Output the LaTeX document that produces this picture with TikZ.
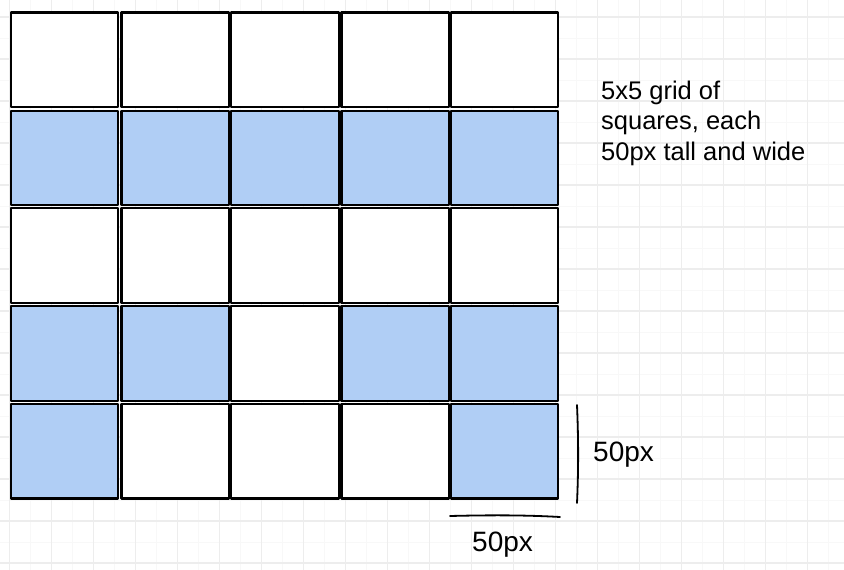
\documentclass[tikz,border=0pt]{standalone}
\usepackage{fontspec}
\setmainfont{Liberation Sans}

\definecolor{cellblue}{RGB}{176,206,245}
\definecolor{minorgrid}{RGB}{248,248,248}
\definecolor{majorgrid}{RGB}{237,237,237}

\begin{document}
\begin{tikzpicture}[x=1pt, y=-1pt,
    cell/.style={draw=black, line width=2.8pt, line join=round, fill=white},
    bluecell/.style={cell, fill=cellblue},
    dimline/.style={draw=black, line width=1.8pt, line cap=round},
    dimlabel/.style={font=\fontsize{28}{30}\selectfont, inner sep=0pt, anchor=base west},
    desclabel/.style={font=\fontsize{25.5}{30}\selectfont, inner sep=0pt, anchor=base west}]

    \useasboundingbox (0, 0) rectangle (844, 570);
    \fill[white] (0, 0) rectangle (844, 570);

    % Dessiner le quadrillage de fond
    \begin{scope}[x=1pt, y=1pt]
        \clip (0, 0) rectangle (844, -570);
        \draw[color=minorgrid, line width=1pt, shift={(9.5, -17)}, step=21] (-21, -588) grid (861, 21);
        \draw[color=majorgrid, line width=1.2pt, shift={(9.5, -17)}, step=42] (-42, -588) grid (861, 42);
    \end{scope}

    \draw[cell] (11, 12.5) rectangle (118, 107);
    \draw[cell] (121.5, 12.5) rectangle (229, 107);
    \draw[cell] (231, 12.5) rectangle (339, 107);
    \draw[cell] (341.5, 12.5) rectangle (449, 107);
    \draw[cell] (451, 12.5) rectangle (558, 107);

    \draw[bluecell] (11, 111) rectangle (118, 205);
    \draw[bluecell] (121.5, 111) rectangle (229, 205);
    \draw[bluecell] (231, 111) rectangle (339, 205);
    \draw[bluecell] (341.5, 111) rectangle (449, 205);
    \draw[bluecell] (451, 111) rectangle (558, 205);

    \draw[cell] (11, 208) rectangle (118, 303);
    \draw[cell] (121.5, 208) rectangle (229, 303);
    \draw[cell] (231, 208) rectangle (339, 303);
    \draw[cell] (341.5, 208) rectangle (449, 303);
    \draw[cell] (451, 208) rectangle (558, 303);

    \draw[bluecell] (11, 306) rectangle (118, 401);
    \draw[bluecell] (121.5, 306) rectangle (229, 401);
    \draw[cell] (231, 306) rectangle (339, 401);
    \draw[bluecell] (341.5, 306) rectangle (449, 401);
    \draw[bluecell] (451, 306) rectangle (558, 401);

    \draw[bluecell] (11, 404) rectangle (118, 498.5);
    \draw[cell] (121.5, 404) rectangle (229, 498.5);
    \draw[cell] (231, 404) rectangle (339, 498.5);
    \draw[cell] (341.5, 404) rectangle (449, 498.5);
    \draw[bluecell] (451, 404) rectangle (558, 498.5);

    % Cotes
    \draw[dimline] (577, 405) .. controls (578.5, 440) and (578.5, 470) .. (577, 503);
    \draw[dimline] (450, 516) .. controls (490, 515) and (525, 515) .. (560, 517);

    \node[dimlabel] (heightlabel) at (593, 461) {50px};
    \node[dimlabel] (widthlabel) at (472, 551) {50px};

    \node[desclabel] (descone) at (601, 99) {5x5 grid of};
    \node[desclabel] (desctwo) at (601, 129.5) {squares, each};
    \node[desclabel] (descthree) at (601, 160) {50px tall and wide};

\end{tikzpicture}
\end{document}
